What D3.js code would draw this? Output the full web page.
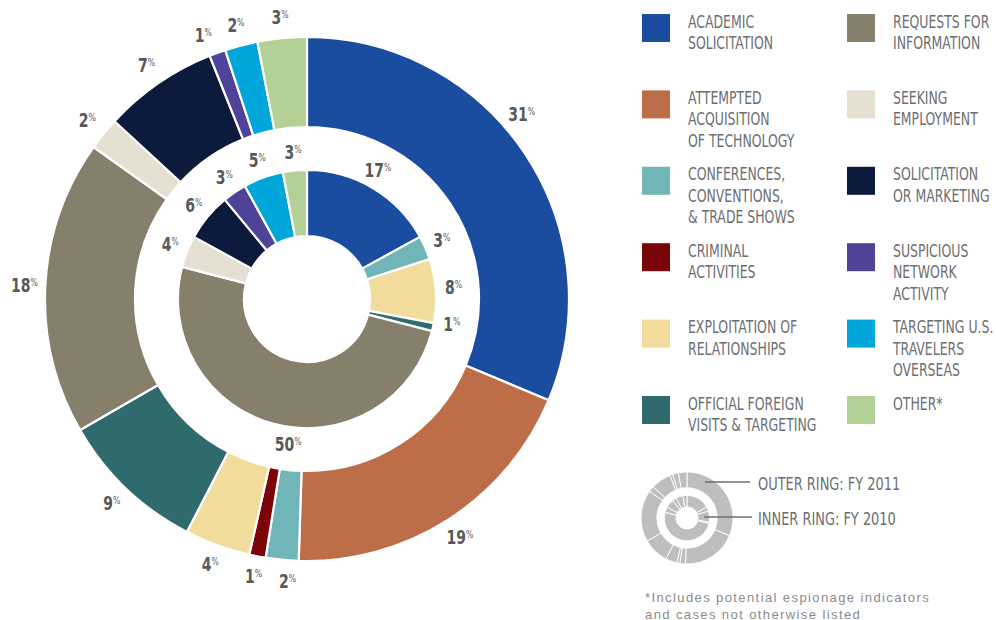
<!DOCTYPE html>
<html>
<head>
<meta charset="utf-8">
<script src="https://cdn.jsdelivr.net/npm/d3@7/dist/d3.min.js"></script>
<style>
  body { margin: 0; background: #fff; }
  svg { display: block; }
</style>
</head>
<body>
<svg id="chart" width="996" height="620"></svg>
<script>
// categories, in pie order (clockwise from 12 o'clock) and legend order
const categories = [
  "ACADEMIC SOLICITATION", "ATTEMPTED ACQUISITION OF TECHNOLOGY",
  "CONFERENCES, CONVENTIONS, & TRADE SHOWS", "CRIMINAL ACTIVITIES",
  "EXPLOITATION OF RELATIONSHIPS", "OFFICIAL FOREIGN VISITS & TARGETING",
  "REQUESTS FOR INFORMATION", "SEEKING EMPLOYMENT", "SOLICITATION OR MARKETING",
  "SUSPICIOUS NETWORK ACTIVITY", "TARGETING U.S. TRAVELERS OVERSEAS", "OTHER*"
];
const legendLines = [
  ["ACADEMIC", "SOLICITATION"],
  ["ATTEMPTED", "ACQUISITION", "OF TECHNOLOGY"],
  ["CONFERENCES,", "CONVENTIONS,", "& TRADE SHOWS"],
  ["CRIMINAL", "ACTIVITIES"],
  ["EXPLOITATION OF", "RELATIONSHIPS"],
  ["OFFICIAL FOREIGN", "VISITS & TARGETING"],
  ["REQUESTS FOR", "INFORMATION"],
  ["SEEKING", "EMPLOYMENT"],
  ["SOLICITATION", "OR MARKETING"],
  ["SUSPICIOUS", "NETWORK", "ACTIVITY"],
  ["TARGETING U.S.", "TRAVELERS", "OVERSEAS"],
  ["OTHER*"]
];
const colors = [
  "#1a4c9f", "#bd6e48", "#70b6b9", "#7b0409", "#f1dc9b", "#2f6a6c",
  "#857f6b", "#e6e0d3", "#0c1a3b", "#4e4399", "#00a6d9", "#b3d097"
];

// outer ring FY 2011, inner ring FY 2010 (percent)
const fy2011 = [31, 19, 2, 1, 4, 9, 18, 2, 7, 1, 2, 3];
const fy2010 = [17, 0, 3, 0, 8, 1, 50, 4, 6, 3, 5, 3];

const ringNotes = ["OUTER RING: FY 2011", "INNER RING: FY 2010"];
const footnote = ["*Includes potential espionage indicators", "and cases not otherwise listed"];

/* ---------- layout ---------- */
const cx = 307, cy = 299;
const rings = [
  { data: fy2011, r0: 172, r1: 262, labelR: 283 },
  { data: fy2010, r0: 63,  r1: 129, labelR: 147 }
];
// small hand nudges (degrees) so labels don't collide, like the original
const nudge = [
  { 0: -7, 2: -1.5, 9: -1.5 },
  { 0: -1.7, 4: -1, 5: -2.6, 6: -7 }
];
const labelFont = "'Liberation Sans Narrow', 'Arial Narrow', 'DejaVu Sans Condensed', sans-serif";
const textGrey = "#6d6e71";

const svg = d3.select("#chart");
const pie = d3.pie().sort(null).value(d => d);

function drawRings(g, scale, fillFn, strokeW) {
  rings.forEach(ring => {
    const arc = d3.arc().innerRadius(ring.r0 * scale).outerRadius(ring.r1 * scale);
    g.append("g").selectAll("path")
      .data(pie(ring.data).filter(d => d.value > 0))
      .join("path")
      .attr("d", arc)
      .attr("fill", d => fillFn(d.index))
      .attr("stroke", "#fff")
      .attr("stroke-width", strokeW)
      .attr("stroke-linejoin", "round");
  });
}

/* ---------- main chart ---------- */
const main = svg.append("g").attr("transform", `translate(${cx},${cy})`);
drawRings(main, 1, i => colors[i], 2.2);

rings.forEach((ring, k) => {
  const arcs = pie(ring.data).filter(d => d.value > 0);
  main.append("g").selectAll("text")
    .data(arcs)
    .join("text")
    .attr("transform", d => {
      const a = (d.startAngle + d.endAngle) / 2 + ((nudge[k][d.index] || 0) * Math.PI / 180);
      const x = ring.labelR * Math.sin(a);
      const y = -ring.labelR * Math.cos(a);
      return `translate(${x},${y + 6.5}) scale(0.82,1)`;
    })
    .attr("text-anchor", "middle")
    .attr("font-family", labelFont)
    .attr("fill", "#58595b")
    .each(function (d) {
      const t = d3.select(this);
      t.append("tspan").attr("font-size", 19).attr("font-weight", "bold").text(d.value);
      t.append("tspan").attr("font-size", 10.5).attr("dy", -6).text("%");
    });
});

/* ---------- legend ---------- */
const legend = svg.append("g");
const colX = [642, 847], rowY0 = 14, rowStep = 76.4, sw = 28;
categories.forEach((c, i) => {
  const col = Math.floor(i / 6), row = i % 6;
  const x = colX[col], y = rowY0 + row * rowStep;
  legend.append("rect")
    .attr("x", x).attr("y", y)
    .attr("width", sw).attr("height", sw)
    .attr("fill", colors[i]);
  const t = legend.append("text")
    .attr("transform", `translate(${x + 46},${y + 13.5}) scale(0.77,1)`)
    .attr("font-family", labelFont)
    .attr("font-size", 18)
    .attr("fill", textGrey);
  legendLines[i].forEach((ln, j) => {
    t.append("tspan").attr("x", 0).attr("y", j * 21.5).text(ln);
  });
});

/* ---------- ring key ---------- */
const key = svg.append("g").attr("transform", "translate(687,518)");
drawRings(key, 46 / 262, () => "#bdbec0", 0.9);

const keyLines = [[705, 482, 750], [704, 517, 752]];
ringNotes.forEach((n, i) => {
  const [x1, y, x2] = keyLines[i];
  svg.append("line")
    .attr("x1", x1).attr("x2", x2).attr("y1", y).attr("y2", y)
    .attr("stroke", textGrey).attr("stroke-width", 1.6);
  svg.append("text")
    .attr("transform", `translate(758,${y + 7.5}) scale(0.8,1)`)
    .attr("font-family", labelFont)
    .attr("font-size", 18)
    .attr("fill", textGrey)
    .text(n);
});

footnote.forEach((f, i) => {
  svg.append("text")
    .attr("x", 645).attr("y", 602 + i * 16.5)
    .attr("font-family", "'Liberation Sans', Arial, sans-serif")
    .attr("font-size", 13)
    .attr("letter-spacing", 1.4)
    .attr("fill", "#8a8b8d")
    .text(f);
});
</script>
</body>
</html>
